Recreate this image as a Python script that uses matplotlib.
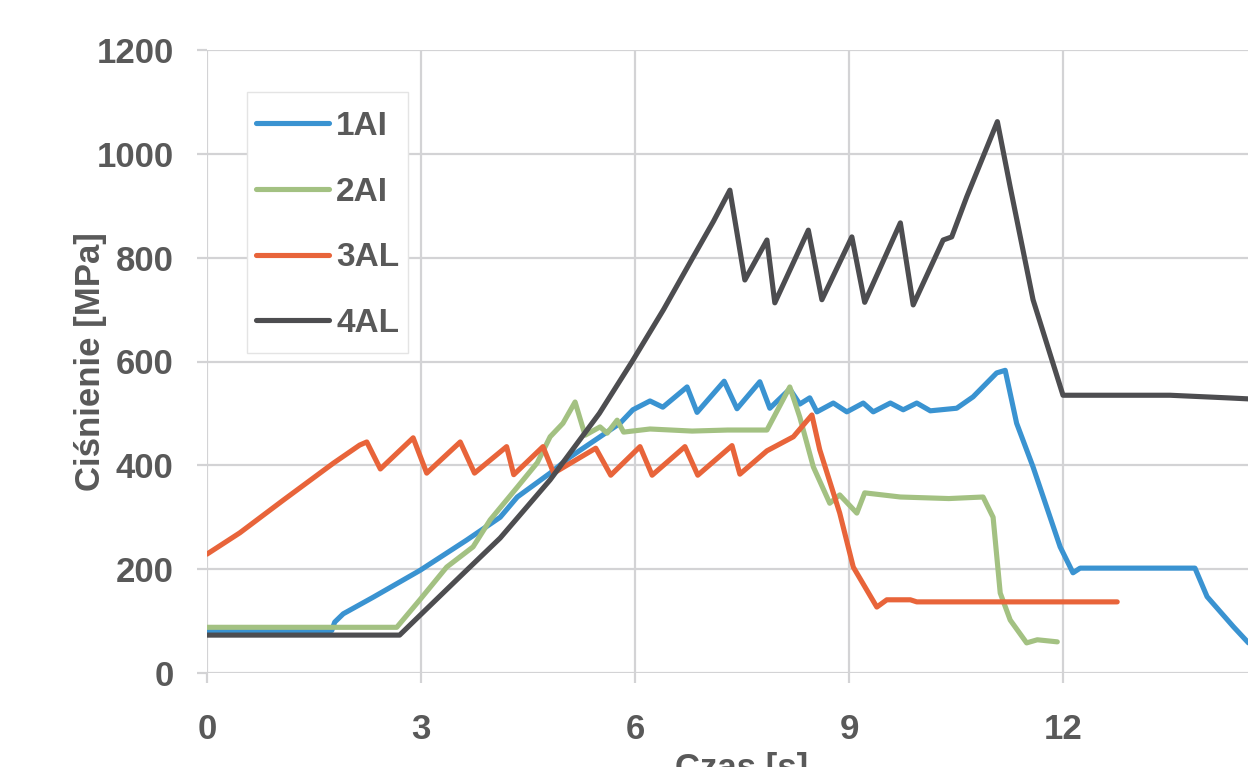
import matplotlib
matplotlib.use('Agg')
import matplotlib.pyplot as plt
from matplotlib.patches import Rectangle


# ---------------------------------------------------------------- data
t_1ai = [0, 1.75, 1.79, 1.91, 2.33, 2.99, 3.64, 4.11, 4.35, 4.81, 5.09, 5.51, 5.79, 5.97,
         6.21, 6.39, 6.73, 6.87, 7.25, 7.43, 7.75, 7.89, 8.17, 8.31, 8.45, 8.55, 8.78, 8.97,
         9.2, 9.34, 9.58, 9.76, 9.95, 10.14, 10.51, 10.74, 11.07, 11.19, 11.35, 11.58, 11.96,
         12.14, 12.24, 13.85, 14.02, 14.39, 14.6]
p_1ai = [82, 82, 98, 114, 146, 198, 256, 300, 339, 385, 416, 455, 481, 507,
         524, 512, 551, 502, 562, 509, 561, 510, 547, 518, 530, 503, 520, 503,
         520, 503, 520, 507, 520, 505, 510, 532, 578, 583, 481, 397, 243,
         193, 202, 202, 147, 89, 58]

t_2ai = [0, 2.66, 2.99, 3.36, 3.73, 3.97, 4.35, 4.63, 4.81, 4.99, 5.16, 5.3, 5.51, 5.61,
         5.75, 5.84, 6.21, 6.8, 7.3, 7.85, 8.17, 8.31, 8.5, 8.73, 8.87, 9.11, 9.22, 9.72,
         10.4, 10.88, 11.02, 11.12, 11.26, 11.49, 11.64, 11.92]
p_2ai = [88, 88, 142, 204, 243, 295, 358, 405, 455, 481, 522, 458, 474, 462,
         487, 464, 470, 466, 468, 468, 551, 493, 397, 327, 343, 308, 347, 339,
         336, 339, 300, 154, 102, 58, 64, 60]

t_3al = [0, 0.46, 1.07, 1.77, 2.14, 2.24, 2.43, 2.89, 3.08, 3.55, 3.75, 4.2, 4.3, 4.71,
         4.86, 5.45, 5.66, 6.07, 6.24, 6.70, 6.88, 7.36, 7.47, 7.85, 8.22, 8.48, 8.59,
         8.87, 9.06, 9.39, 9.53, 9.86, 9.95, 12.76]
p_3al = [229, 270, 333, 404, 439, 445, 393, 453, 385, 445, 385, 436, 382, 436,
         385, 433, 381, 436, 381, 436, 381, 438, 383, 428, 455, 497, 430,
         308, 204, 127, 141, 141, 137, 137]

t_4al = [0, 2.7, 3.0, 3.64, 4.11, 4.81, 5.5, 5.96, 6.4, 6.81, 7.1, 7.33, 7.54, 7.85,
         7.96, 8.43, 8.62, 9.04, 9.22, 9.72, 9.90, 10.32, 10.44, 10.65, 11.08, 11.26,
         11.58, 12.0, 13.5, 14.3, 14.6]
p_4al = [73, 73, 113, 198, 260, 372, 500, 600, 700, 800, 870, 930, 757, 834,
         713, 853, 719, 840, 714, 867, 709, 834, 840, 917, 1062, 936,
         719, 535, 535, 530, 528]

series = ['1AI', '2AI', '3AL', '4AL']
colors = ['#3a93d1', '#a3c182', '#e8643a', '#4d4d50']

x_ticks = [0, 3, 6, 9, 12]
y_ticks = [0, 200, 400, 600, 800, 1000, 1200]

text_color = '#595959'
grid_color = '#d3d3d5'


# ---------------------------------------------------------------- plot
plt.rcParams['font.family'] = ['Liberation Sans', 'DejaVu Sans']
plt.rcParams['font.weight'] = 'bold'
plt.rcParams['axes.labelweight'] = 'bold'

W, H = 1248, 767
fig = plt.figure(figsize=(W / 100, H / 100), dpi=100)
# the original plot area runs past the right edge of the picture (to 15 s)
ax = fig.add_axes([207 / W, 1 - 673 / H, (1277 - 207) / W, (673 - 50) / H])

for t, p, lab, c in zip([t_1ai, t_2ai, t_3al, t_4al],
                        [p_1ai, p_2ai, p_3al, p_4al], series, colors):
    ax.plot(t, p, color=c, lw=3.7, label=lab, solid_joinstyle='round',
            solid_capstyle='round', zorder=3)

ax.set_xlim(0, 15)
ax.set_ylim(0, 1200)
ax.set_xticks(x_ticks)
ax.set_yticks(y_ticks)
ax.grid(True, color=grid_color, lw=1.6, zorder=0)
ax.axvline(15, color=grid_color, lw=1.6, zorder=0)
for s in ax.spines.values():
    s.set_visible(False)
ax.tick_params(axis='both', colors=grid_color, length=7, width=1.6,
               labelcolor=text_color, labelsize=25)
ax.tick_params(axis='y', pad=17)
ax.tick_params(axis='x', pad=22)

ax.set_ylabel('Ciśnienie [MPa]', fontsize=25, color=text_color, va='center')
ax.yaxis.set_label_coords(-0.109, 0.5)
ax.set_xlabel('Czas [s]', fontsize=25, color=text_color, va='top')
ax.xaxis.set_label_coords(0.5, -0.127)

# legend box drawn separately so its padding can differ per side
box = Rectangle((247 / W, 1 - 353 / H), (408 - 247) / W, (353 - 92) / H,
                transform=fig.transFigure, facecolor='white', edgecolor='#e4e4e4',
                lw=1.0, zorder=4)
ax.add_artist(box)
box.set_clip_on(False)
leg = ax.legend(loc='upper left', bbox_to_anchor=(256 / W, 1 - 111 / H),
                bbox_transform=fig.transFigure, borderaxespad=0, fontsize=24,
                handlelength=2.2, handletextpad=0.21, labelspacing=1.04,
                borderpad=0, frameon=False)
leg.set_zorder(5)
for txt in leg.get_texts():
    txt.set_color(text_color)

fig.savefig('out.png', dpi=100)
